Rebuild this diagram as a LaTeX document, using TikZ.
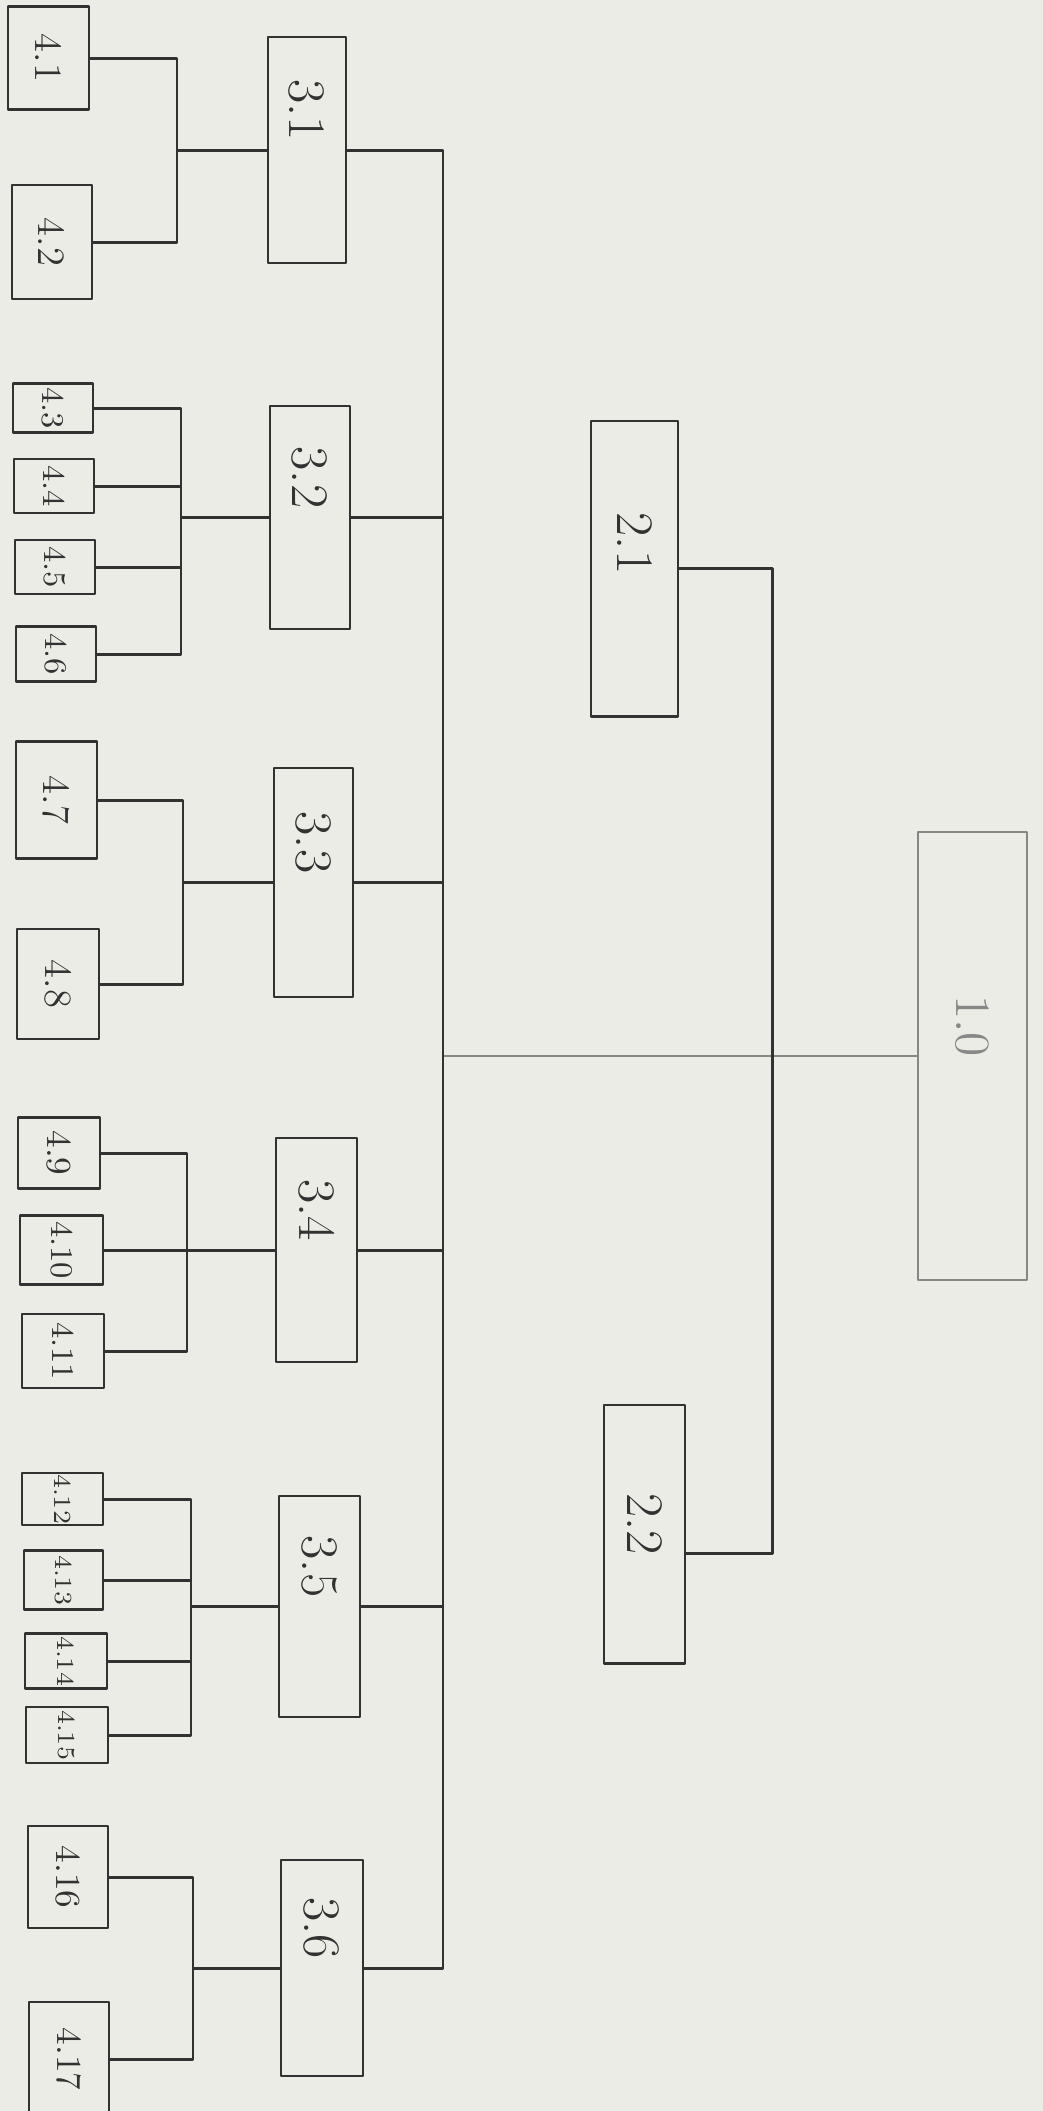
\documentclass[tikz,border=0pt]{standalone}
\usepackage{graphicx}
\definecolor{paper}{RGB}{236,236,231}
\definecolor{ink}{RGB}{50,50,50}
\definecolor{faint}{RGB}{135,135,135}
\newcommand{\turnlab}[2][0mm]{\rotatebox{-90}{#2\hspace*{#1}}}
\begin{document}
\begin{tikzpicture}[x=0.01cm, y=-0.01cm, line join=round,
  box/.style={draw=ink, line width=0.8pt, fill=paper, inner sep=0pt, text=ink},
  big/.style={font=\fontsize{15}{15}\selectfont},
  wire/.style={draw=ink, line width=0.85pt}]
\fill[paper] (0,0) rectangle (1043,2111);
\useasboundingbox (0,0) rectangle (1043,2111);
\node[box, draw=faint, text=faint, line width=0.5pt, font=\fontsize{14}{14}\selectfont, minimum width=10.9mm, minimum height=44.8mm] (b10) at (972.5,1056) {\turnlab[6mm]{1.0}};
\node[box, big, minimum width=8.7mm, minimum height=29.5mm] (b21) at (634.5,568.5) {\turnlab[5mm]{2.1}};
\node[box, big, minimum width=8.1mm, minimum height=25.8mm] (b22) at (644.5,1534) {\turnlab[2mm]{2.2}};
\coordinate (b22c) at ([yshift=-1.9mm]b22.east);
\foreach \n/\x/\y/\w/\h/\lab in {31/307/150/7.8/22.6/3.1, 32/310/517.5/8.0/22.3/3.2, 33/313.5/882.5/7.9/22.9/3.3,
  34/316.5/1250/8.1/22.4/3.4, 35/319.5/1606.5/8.1/22.1/3.5, 36/322/1968/8.2/21.6/3.6}
  \node[box, big, minimum width=\w mm, minimum height=\h mm] (b\n) at (\x,\y) {\turnlab[8mm]{\lab}};
\foreach \n/\x/\y/\w/\h/\lab/\f in {41/48.5/58/8.1/10.3/4.1/11, 42/52/242/8.0/11.4/4.2/11,
  43/53/408/8.0/4.9/4.3/9, 44/54/486/8.0/5.4/4.4/9, 45/55/567/8.0/5.4/4.5/9, 46/56/654/8.0/5.5/4.6/9,
  47/56.5/800/8.1/11.7/4.7/11, 48/58/984/8.2/11.0/4.8/11,
  49/59/1153/8.2/7.1/4.9/10, 410/61.5/1250/8.3/6.9/4.10/9, 411/63/1351/8.2/7.4/4.11/9,
  412/62.5/1499/8.1/5.2/4.12/7, 413/63.5/1580/7.9/5.9/4.13/7, 414/66/1661/8.2/5.5/4.14/7, 415/67/1735/8.2/5.6/4.15/7,
  416/68/1877/8.0/10.2/4.16/10, 417/69/2059/8.0/11.4/4.17/10}
  \node[box, font=\fontsize{\f}{\f}\selectfont, minimum width=\w mm, minimum height=\h mm] (b\n) at (\x,\y) {\turnlab{\lab}};
\coordinate (tr) at (443,0);
\coordinate (tm) at (772,0);
\coordinate (j1) at (177,0);
\coordinate (j2) at (181,0);
\coordinate (j3) at (183,0);
\coordinate (j4) at (187,0);
\coordinate (j5) at (191,0);
\coordinate (j6) at (193,0);
\draw[faint, line width=0.5pt] (b10.west) -- (b10.west -| tr);
\draw[wire] (b21.east) -| (tm |- b22c) -- (b22c);
\draw[wire] (b31.east) -| (tr |- b36.east) -- (b36.east);
\foreach \n in {32,33,34,35} \draw[wire] (b\n.east) -- (b\n.east -| tr);
\draw[wire] (b41.east) -| (j1 |- b42.east) -- (b42.east) (b31.west) -- (b31.west -| j1);
\draw[wire] (b43.east) -| (j2 |- b46.east) -- (b46.east) (b32.west) -- (b32.west -| j2);
\foreach \n in {44,45} \draw[wire] (b\n.east) -- (b\n.east -| j2);
\draw[wire] (b47.east) -| (j3 |- b48.east) -- (b48.east) (b33.west) -- (b33.west -| j3);
\draw[wire] (b49.east) -| (j4 |- b411.east) -- (b411.east) (b410.east) -- (b34.west);
\draw[wire] (b412.east) -| (j5 |- b415.east) -- (b415.east) (b35.west) -- (b35.west -| j5);
\foreach \n in {413,414} \draw[wire] (b\n.east) -- (b\n.east -| j5);
\draw[wire] (b416.east) -| (j6 |- b417.east) -- (b417.east) (b36.west) -- (b36.west -| j6);
\end{tikzpicture}
\end{document}
